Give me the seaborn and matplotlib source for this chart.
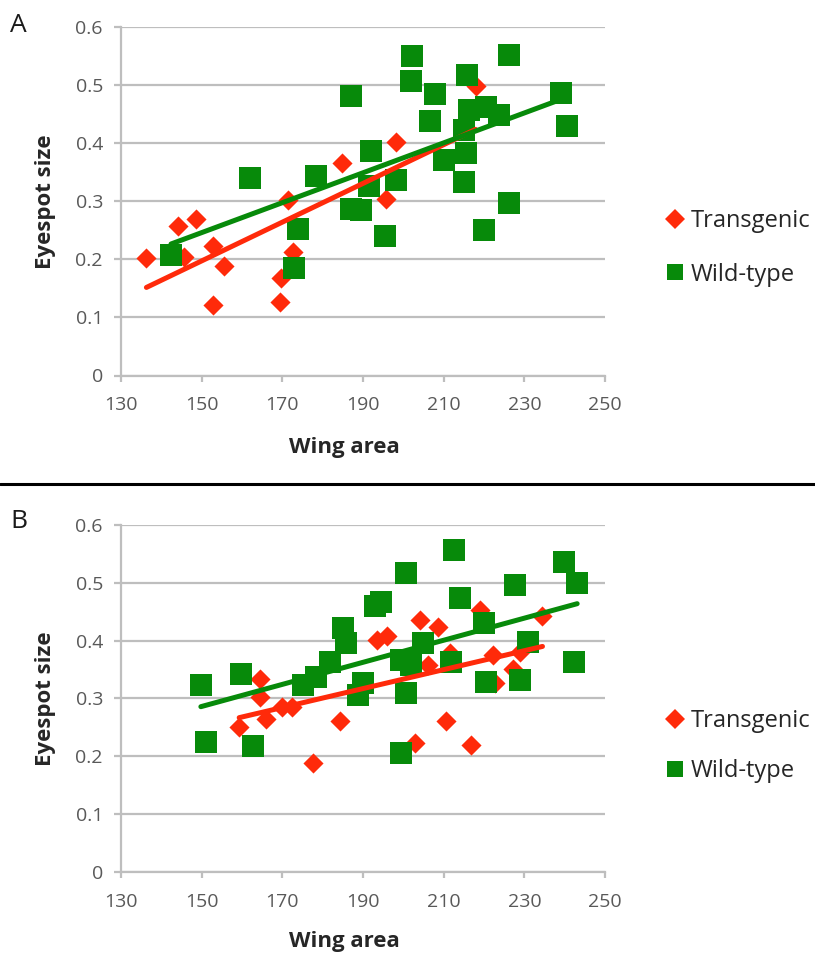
import matplotlib
matplotlib.use("Agg")
import matplotlib.pyplot as plt
from matplotlib.lines import Line2D
import seaborn as sns

# === Datos panel A ===
a_tg_x = [136.3, 144.1, 145.6, 148.6, 152.9, 152.9, 155.5, 169.3, 169.7, 171.4,
          172.7, 184.9, 195.7, 198.2, 217.9]
a_tg_y = [0.203, 0.257, 0.205, 0.269, 0.224, 0.122, 0.189, 0.126, 0.168, 0.303,
          0.212, 0.366, 0.304, 0.403, 0.498]

a_wt_x = [142.4, 161.9, 172.9, 174.0, 178.4, 187.1, 187.1, 189.6, 191.5, 192.0,
          195.4, 198.2, 201.9, 202.2, 206.5, 207.9, 210.2, 215.0, 215.1, 215.6,
          215.8, 216.4, 220.0, 220.5, 223.8, 226.3, 226.3, 239.2, 240.7]
a_wt_y = [0.208, 0.340, 0.185, 0.252, 0.343, 0.482, 0.287, 0.285, 0.326, 0.386,
          0.240, 0.337, 0.507, 0.551, 0.438, 0.485, 0.372, 0.333, 0.423, 0.383,
          0.518, 0.458, 0.250, 0.463, 0.449, 0.553, 0.297, 0.487, 0.430]

# === Datos panel B ===
b_tg_x = [159.3, 164.4, 164.4, 165.9, 170.0, 172.5, 177.7, 184.4, 193.4, 196.0,
          202.8, 204.1, 206.1, 208.6, 210.5, 211.5, 216.7, 219.0, 222.3, 222.7,
          227.1, 229.0, 234.5]
b_tg_y = [0.251, 0.333, 0.303, 0.265, 0.285, 0.285, 0.188, 0.261, 0.401, 0.408,
          0.222, 0.436, 0.358, 0.424, 0.261, 0.378, 0.220, 0.453, 0.375, 0.326,
          0.350, 0.380, 0.442]

b_wt_x = [149.8, 151.0, 159.7, 162.8, 175.0, 178.4, 181.7, 185.0, 185.8, 188.7,
          189.9, 192.9, 194.5, 199.5, 199.5, 200.7, 200.7, 202.0, 204.9, 211.8,
          212.6, 214.0, 220.1, 220.6, 227.7, 228.9, 230.8, 239.8, 242.2, 243.1]
b_wt_y = [0.323, 0.224, 0.343, 0.218, 0.323, 0.337, 0.363, 0.421, 0.395, 0.306,
          0.326, 0.459, 0.467, 0.366, 0.205, 0.517, 0.310, 0.358, 0.395, 0.363,
          0.557, 0.473, 0.430, 0.329, 0.496, 0.332, 0.398, 0.536, 0.363, 0.500]

x_ticks = [130, 150, 170, 190, 210, 230, 250]
y_ticks = [0, 0.1, 0.2, 0.3, 0.4, 0.5, 0.6]
series_labels = ["Transgenic", "Wild-type"]

RED = "#FF2A0A"
GREEN = "#078A0A"
GRID = "#BEBEBE"
TXT = "#595959"

sns.set_style("white")
plt.rcParams["font.family"] = ["Open Sans", "DejaVu Sans"]

fig = plt.figure(figsize=(8.15, 9.58), dpi=100)
W, H = 815, 958


def px_axes(left, top, right, bottom):
    return fig.add_axes([left / W, 1 - bottom / H, (right - left) / W, (bottom - top) / H])


def draw_panel(ax, tg_x, tg_y, wt_x, wt_y, letter, letter_y, legend_y, xlab_y, spacing):
    sns.scatterplot(x=tg_x, y=tg_y, marker="D", s=105, color=RED, linewidth=0, ax=ax, zorder=3)
    sns.scatterplot(x=wt_x, y=wt_y, marker="s", s=250, color=GREEN, linewidth=0, ax=ax, zorder=4)
    sns.regplot(x=tg_x, y=tg_y, scatter=False, ci=None, ax=ax,
                line_kws=dict(color=RED, lw=3.6, zorder=5, solid_capstyle="round"))
    sns.regplot(x=wt_x, y=wt_y, scatter=False, ci=None, ax=ax,
                line_kws=dict(color=GREEN, lw=3.6, zorder=6, solid_capstyle="round"))

    ax.set_xlim(130, 250)
    ax.set_ylim(0, 0.6)
    ax.set_xticks(x_ticks)
    ax.set_yticks(y_ticks)
    ax.set_yticklabels([f"{v:g}" for v in y_ticks])
    ax.yaxis.grid(True, color=GRID, lw=1.6)
    ax.set_axisbelow(True)
    for s in ["top", "right"]:
        ax.spines[s].set_visible(False)
    for s in ["left", "bottom"]:
        ax.spines[s].set_color(GRID)
        ax.spines[s].set_linewidth(1.6)
    ax.tick_params(axis="y", direction="out", length=5, width=1.6, color=GRID,
                   labelsize=14, labelcolor=TXT, pad=8, left=True)
    ax.tick_params(axis="x", direction="out", length=4, width=1.6, color=GRID,
                   labelsize=14, labelcolor=TXT, pad=11, bottom=True)

    ax.set_xlabel("Wing area", fontsize=16, fontweight="bold", color="#262626", va="center")
    ax.set_ylabel("Eyespot size", fontsize=16, fontweight="bold", color="#262626", va="center")
    ax.xaxis.set_label_coords((344.5 - 121) / 484, xlab_y)
    ax.yaxis.set_label_coords((45 - 121) / 484, 0.5)

    fig.text(10 / W, 1 - letter_y / H, letter, fontsize=19, color="#1a1a1a", va="center")

    handles = [
        Line2D([], [], marker="D", ls="", color=RED, markersize=10.5, markeredgewidth=0),
        Line2D([], [], marker="s", ls="", color=GREEN, markersize=12, markeredgewidth=0),
    ]
    ax.legend(handles=handles, labels=series_labels, loc="center left",
              bbox_to_anchor=(664 / W, 1 - legend_y / H), bbox_transform=fig.transFigure,
              frameon=False, fontsize=17, labelcolor="#262626", handlelength=0.9,
              handletextpad=0.25, borderpad=0, labelspacing=spacing, borderaxespad=0)


ax_a = px_axes(121, 27.3, 605, 375.5)
draw_panel(ax_a, a_tg_x, a_tg_y, a_wt_x, a_wt_y, "A", 26, 248, -(447 - 375.5) / 348.2, 1.25)

ax_b = px_axes(121, 525, 605, 871.7)
draw_panel(ax_b, b_tg_x, b_tg_y, b_wt_x, b_wt_y, "B", 522, 746, -(942 - 871.7) / 346.7, 1.1)

# linea separadora entre paneles
fig.add_artist(Line2D([0, 1], [1 - 484 / H, 1 - 484 / H], transform=fig.transFigure,
                      color="black", lw=2.2))

plt.savefig("out.png", dpi=100)
plt.close()
